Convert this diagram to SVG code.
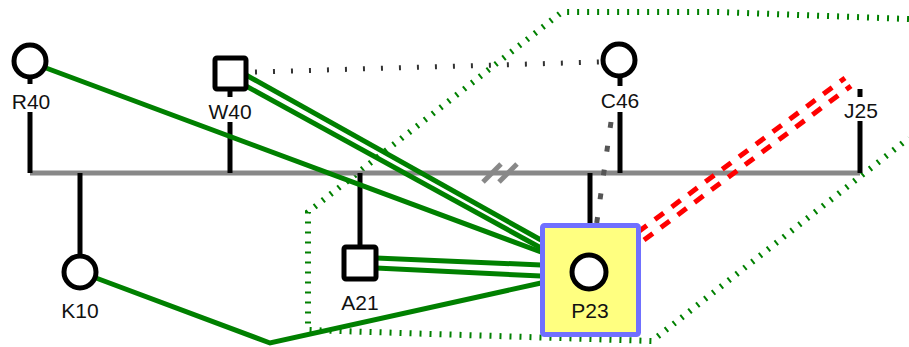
<svg xmlns="http://www.w3.org/2000/svg" width="909" height="347" viewBox="0 0 909 347">
<style>
text{font-family:"Liberation Sans",Arial,sans-serif;font-size:21px;fill:#111;text-anchor:middle}
.sym{fill:#fff;stroke:#000;stroke-width:5}
.v{stroke:#000;stroke-width:5;fill:none}
.sib{stroke:#888;stroke-width:5;fill:none}
.g{stroke:#008000;stroke-width:5;fill:none}
.red{stroke:#ff0000;stroke-width:5;fill:none;stroke-dasharray:11 10}
.gd{stroke:#008000;stroke-width:6;fill:none;stroke-dasharray:2 8}
.kd{stroke:#333;stroke-width:5;fill:none;stroke-dasharray:2 16}
.gy{stroke:#555;stroke-width:5;fill:none;stroke-dasharray:6 18}
</style>
<g id="connectors">
<polyline class="gd" points="909,19 718,12 562,12 308,212 308,330 652,341 909,138"/>
<line class="kd" x1="255" y1="72" x2="600" y2="62"/>
<line class="sib" x1="30" y1="173" x2="860" y2="173"/>
<line class="sib" x1="483" y1="182" x2="501" y2="164"/>
<line class="sib" x1="499" y1="182" x2="517" y2="164"/>
<line class="v" x1="30" y1="77" x2="30" y2="84"/>
<line class="v" x1="30" y1="112" x2="30" y2="173"/>
<line class="v" x1="230" y1="90" x2="230" y2="97"/>
<line class="v" x1="230" y1="122" x2="230" y2="173"/>
<line class="v" x1="620" y1="77" x2="620" y2="86"/>
<line class="v" x1="620" y1="112" x2="620" y2="173"/>
<line class="v" x1="860" y1="89" x2="860" y2="97"/>
<line class="v" x1="860" y1="121" x2="860" y2="173"/>
<line class="v" x1="80" y1="173" x2="80" y2="255"/>
<line class="v" x1="360" y1="173" x2="360" y2="246"/>
<line class="v" x1="590" y1="173" x2="590" y2="226"/>
<line class="gy" x1="611" y1="122" x2="596" y2="228"/>
<line class="g" x1="46" y1="68" x2="541" y2="252"/>
<line class="g" x1="246" y1="75" x2="541" y2="240"/>
<line class="g" x1="246" y1="86" x2="541" y2="248"/>
<line class="g" x1="376" y1="258" x2="541" y2="265"/>
<line class="g" x1="376" y1="268" x2="541" y2="276"/>
<polyline class="g" points="96,278 270,343 541,283"/>
<line class="red" x1="638" y1="232" x2="845" y2="78"/>
<line class="red" x1="644" y1="240" x2="851" y2="86"/>
</g>
<g id="R40"><circle class="sym" cx="30" cy="61" r="16"/><text x="31" y="109">R40</text></g>
<g id="W40"><rect class="sym" x="215" y="58" width="31" height="31" rx="2"/><text x="230" y="119">W40</text></g>
<g id="C46"><circle class="sym" cx="619" cy="60" r="16"/><text x="620" y="108">C46</text></g>
<g id="J25"><text x="861" y="118">J25</text></g>
<g id="K10"><circle class="sym" cx="80" cy="272" r="16"/><text x="80" y="318">K10</text></g>
<g id="A21"><rect class="sym" x="344" y="247" width="32" height="32" rx="2"/><text x="360" y="310">A21</text></g>
<g id="P23"><rect x="542.5" y="225.5" width="96" height="109" rx="2" fill="#ffff80" stroke="#7070ff" stroke-width="5"/><circle class="sym" cx="589" cy="272" r="17"/><text x="590" y="318">P23</text></g>
</svg>
